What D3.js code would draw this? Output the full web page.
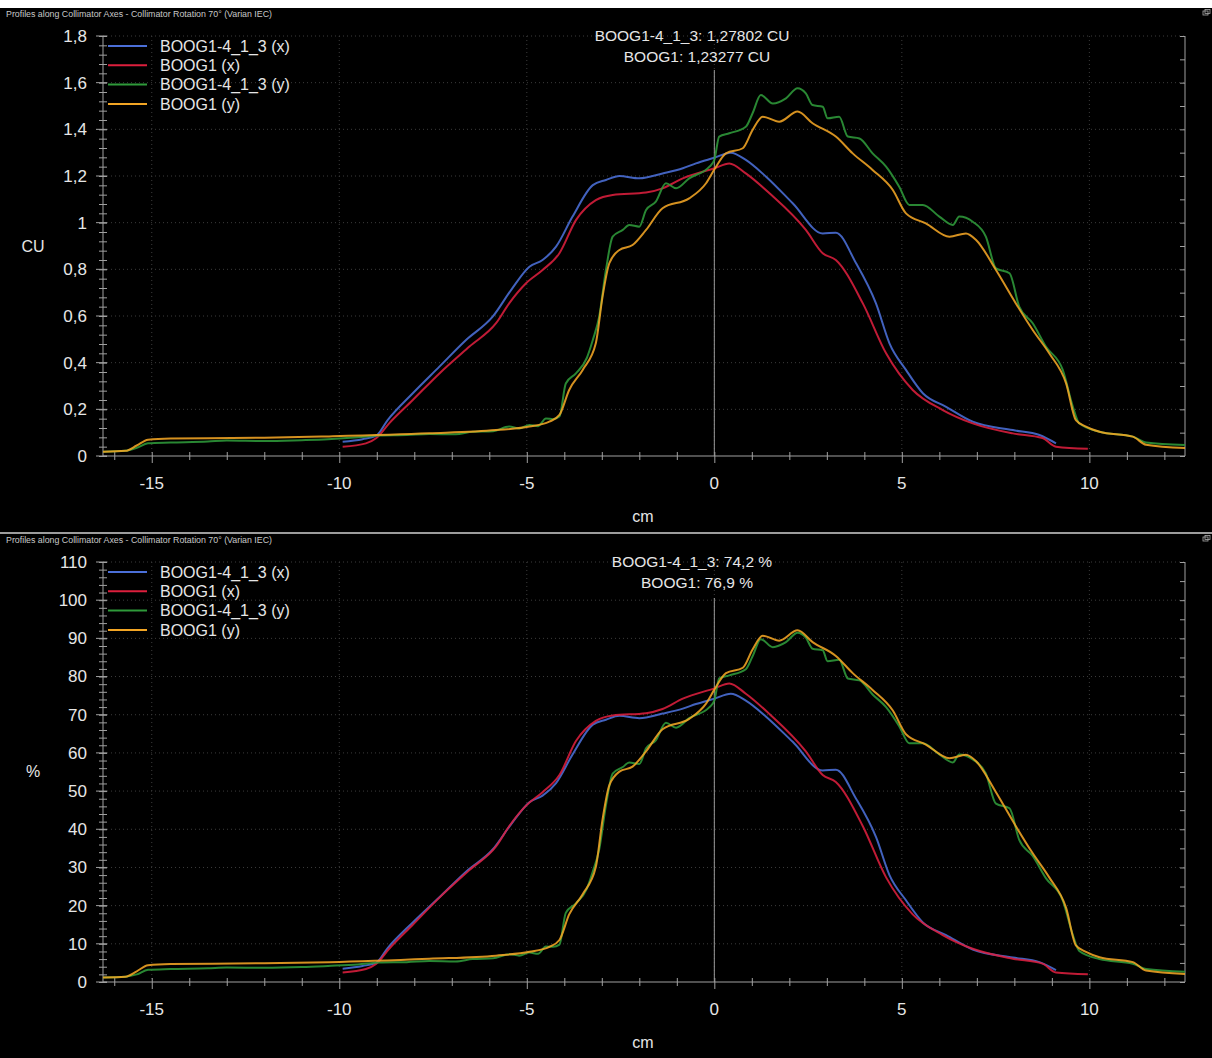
<!DOCTYPE html>
<html lang="en">

<head>
    <meta charset="UTF-8">
    <title>Profiles along Collimator Axes</title>
    <script src="https://d3js.org/d3.v7.min.js"></script>
    <style>
        body {
            margin: 0;
            background-color: white;
        }

        svg {
            display: block;
            font-family: "Liberation Sans", Arial, sans-serif;
        }
    </style>
</head>

<body>
    <svg id="chart" width="1212" height="1058"></svg>
    <script>
        // ---- Data ----
        const seriesNames = ["BOOG1-4_1_3 (x)", "BOOG1 (x)", "BOOG1-4_1_3 (y)", "BOOG1 (y)"];
        const seriesColors = ["#4b6fd8", "#dc1f3d", "#2f9a3a", "#f2a524"];

        const xTicksMajor = [-15, -10, -5, 0, 5, 10];
        const xTickLabels = ["-15", "-10", "-5", "0", "5", "10"];

        const cuTicks = [0, 0.2, 0.4, 0.6, 0.8, 1, 1.2, 1.4, 1.6, 1.8];
        const cuTickLabels = ["0", "0,2", "0,4", "0,6", "0,8", "1", "1,2", "1,4", "1,6", "1,8"];
        const pctTicks = [0, 10, 20, 30, 40, 50, 60, 70, 80, 90, 100, 110];
        const pctTickLabels = ["0", "10", "20", "30", "40", "50", "60", "70", "80", "90", "100", "110"];

        // BOOG1-4_1_3 (x)
        const blueCm = [-9.91, -9.38, -9.02, -8.71, -8.04, -7.33, -6.62, -5.91, -5.42, -4.93, -4.58, -4.22, -3.78, -3.24, -2.89, -2.53, -2.0, -1.38, -0.84, -0.49, 0.0, 0.44, 0.84, 1.38, 2.09, 2.89, 3.24, 3.78, 4.31, 4.67, 5.11, 5.56, 6.18, 6.89, 7.96, 8.67, 9.11];
        const blueCU = [0.061, 0.072, 0.086, 0.154, 0.269, 0.383, 0.497, 0.597, 0.711, 0.811, 0.840, 0.897, 1.026, 1.161, 1.183, 1.200, 1.190, 1.211, 1.233, 1.254, 1.278, 1.300, 1.269, 1.197, 1.083, 0.954, 0.957, 0.826, 0.654, 0.483, 0.369, 0.269, 0.211, 0.147, 0.111, 0.090, 0.054];
        const bluePct = [3.5, 4.2, 5.0, 8.9, 15.6, 22.2, 28.9, 34.7, 41.3, 47.1, 48.8, 52.1, 59.6, 67.4, 68.7, 69.7, 69.1, 70.3, 71.6, 72.8, 74.2, 75.5, 73.7, 69.5, 62.9, 55.4, 55.6, 48.0, 38.0, 28.0, 21.4, 15.6, 12.3, 8.5, 6.4, 5.2, 3.1];

        // BOOG1 (x)
        const redCm = [-9.91, -9.29, -9.02, -8.67, -8.04, -7.33, -6.53, -5.82, -5.47, -5.02, -4.58, -4.13, -3.69, -3.16, -2.71, -1.82, -1.38, -0.84, 0.0, 0.40, 0.84, 1.47, 2.44, 2.89, 3.24, 3.96, 4.58, 5.29, 6.09, 6.89, 7.96, 8.75, 9.11, 9.96];
        const redCU = [0.040, 0.054, 0.076, 0.140, 0.240, 0.354, 0.469, 0.569, 0.654, 0.740, 0.797, 0.869, 1.011, 1.097, 1.119, 1.129, 1.147, 1.190, 1.233, 1.254, 1.211, 1.126, 0.969, 0.869, 0.840, 0.654, 0.440, 0.283, 0.197, 0.140, 0.097, 0.077, 0.040, 0.031];
        const redPct = [2.5, 3.4, 4.7, 8.7, 15.0, 22.1, 29.3, 35.5, 40.8, 46.2, 49.7, 54.2, 63.1, 68.4, 69.8, 70.4, 71.5, 74.2, 76.9, 78.2, 75.5, 70.2, 60.4, 54.2, 52.4, 40.8, 27.4, 17.7, 12.3, 8.7, 6.1, 4.8, 2.5, 2.0];

        // BOOG1-4_1_3 (y)
        const greenCm = [-16.3, -15.7, -15.4, -15.1, -14.5, -13.5, -13.0, -12.0, -11.0, -10.3, -9.5, -8.93, -8.2, -7.6, -6.9, -6.44, -5.9, -5.47, -5.2, -4.93, -4.7, -4.49, -4.3, -4.13, -3.96, -3.69, -3.4, -3.24, -3.07, -2.89, -2.71, -2.44, -2.27, -2.0, -1.82, -1.56, -1.29, -1.02, -0.67, -0.13, 0.0, 0.13, 0.40, 0.84, 1.02, 1.24, 1.56, 1.91, 2.22, 2.44, 2.62, 2.89, 3.02, 3.33, 3.56, 3.87, 4.22, 4.58, 4.93, 5.20, 5.56, 6.0, 6.36, 6.53, 6.89, 7.24, 7.51, 7.87, 8.13, 8.49, 8.84, 9.29, 9.56, 9.73, 10.27, 11.16, 11.51, 12.55];
        const greenCU = [0.018, 0.022, 0.035, 0.055, 0.058, 0.062, 0.066, 0.064, 0.068, 0.072, 0.080, 0.088, 0.090, 0.094, 0.093, 0.104, 0.106, 0.126, 0.118, 0.133, 0.128, 0.161, 0.158, 0.169, 0.311, 0.354, 0.420, 0.497, 0.597, 0.797, 0.940, 0.969, 0.990, 0.983, 1.054, 1.090, 1.169, 1.147, 1.190, 1.240, 1.269, 1.369, 1.383, 1.411, 1.469, 1.547, 1.511, 1.533, 1.576, 1.554, 1.504, 1.497, 1.447, 1.454, 1.369, 1.361, 1.297, 1.240, 1.154, 1.076, 1.076, 1.026, 0.990, 1.026, 1.004, 0.940, 0.804, 0.783, 0.640, 0.569, 0.469, 0.369, 0.211, 0.140, 0.104, 0.083, 0.058, 0.047];
        const greenPct = [1.2, 1.4, 2.0, 3.2, 3.4, 3.6, 3.8, 3.7, 3.9, 4.2, 4.6, 5.1, 5.2, 5.5, 5.4, 6.0, 6.2, 7.3, 6.9, 7.7, 7.4, 9.3, 9.2, 9.8, 18.1, 20.6, 24.4, 28.9, 34.7, 46.3, 54.6, 56.3, 57.5, 57.1, 61.2, 63.3, 67.9, 66.6, 69.1, 72.0, 73.7, 79.5, 80.3, 81.9, 85.3, 89.8, 87.7, 89.0, 91.5, 90.2, 87.3, 86.9, 84.0, 84.4, 79.5, 79.0, 75.3, 72.0, 67.0, 62.5, 62.5, 59.6, 57.5, 59.6, 58.3, 54.6, 46.7, 45.5, 37.2, 33.0, 27.2, 21.4, 12.3, 8.1, 6.0, 4.8, 3.4, 2.7];

        // BOOG1 (y)
        const orangeCm = [-16.3, -15.7, -15.4, -15.1, -14.5, -12.0, -10.27, -7.6, -5.82, -4.93, -4.40, -4.13, -3.87, -3.51, -3.16, -2.98, -2.80, -2.53, -2.18, -1.82, -1.38, -0.67, -0.22, 0.02, 0.31, 0.76, 1.02, 1.29, 1.73, 2.22, 2.62, 3.24, 3.69, 4.22, 4.76, 5.11, 5.64, 6.27, 6.71, 6.98, 7.51, 8.04, 8.49, 8.93, 9.38, 9.64, 9.91, 10.27, 11.16, 11.51, 12.55];
        const orangeCU = [0.018, 0.022, 0.045, 0.070, 0.075, 0.078, 0.084, 0.097, 0.111, 0.126, 0.147, 0.176, 0.283, 0.369, 0.483, 0.683, 0.826, 0.883, 0.904, 0.969, 1.062, 1.104, 1.169, 1.233, 1.297, 1.319, 1.397, 1.454, 1.433, 1.476, 1.426, 1.369, 1.297, 1.226, 1.140, 1.040, 0.997, 0.940, 0.954, 0.926, 0.797, 0.654, 0.540, 0.440, 0.311, 0.154, 0.126, 0.104, 0.083, 0.048, 0.034];
        const orangePct = [1.2, 1.4, 2.8, 4.4, 4.7, 4.9, 5.2, 6.1, 6.9, 7.9, 9.2, 11.0, 17.7, 23.0, 30.1, 42.6, 51.5, 55.1, 56.4, 60.4, 66.2, 68.9, 72.9, 76.9, 80.9, 82.3, 87.1, 90.7, 89.4, 92.1, 89.0, 85.4, 80.9, 76.5, 71.1, 64.9, 62.2, 58.6, 59.5, 57.8, 49.7, 40.8, 33.7, 27.4, 19.4, 9.6, 7.9, 6.5, 5.2, 3.0, 2.1];

        const titleText = "Profiles along Collimator Axes - Collimator Rotation 70° (Varian IEC)";
        const cuReadout = ["BOOG1-4_1_3: 1,27802 CU", "BOOG1: 1,23277 CU"];
        const pctReadout = ["BOOG1-4_1_3: 74,2 %", "BOOG1: 76,9 %"];

        // Pair up x and y arrays for d3.line.
        function zip(xs, ys) {
            return xs.map((x, i) => ({ x: x, y: ys[i] }));
        }

        const svg = d3.select("#chart");

        // Draws one profile panel.
        function drawPanel(p) {
            const g = svg.append("g").attr("transform", "translate(0," + p.top + ")");

            g.append("rect")
                .attr("x", 0).attr("y", 0)
                .attr("width", 1212).attr("height", p.height)
                .attr("fill", "black");

            g.append("text")
                .attr("x", 6).attr("y", 9)
                .attr("font-size", 8.4)
                .attr("textLength", 266)
                .attr("lengthAdjust", "spacingAndGlyphs")
                .attr("fill", "#c8c8c8")
                .text(titleText);

            // small window icon top right
            g.append("rect").attr("x", 1203).attr("y", 3).attr("width", 5).attr("height", 4)
                .attr("fill", "none").attr("stroke", "#aaa").attr("stroke-width", 0.8);
            g.append("rect").attr("x", 1205).attr("y", 1.5).attr("width", 5).attr("height", 4)
                .attr("fill", "none").attr("stroke", "#aaa").attr("stroke-width", 0.8);

            const x = d3.scaleLinear().domain([-16.3, 12.55]).range([103, 1185]);
            const y = d3.scaleLinear().domain(p.yDomain).range([p.y0, p.y1]);

            // dotted grid
            g.append("g")
                .selectAll("line")
                .data(p.yTicks.filter(d => d > 0))
                .join("line")
                .attr("x1", 103).attr("x2", 1185)
                .attr("y1", d => y(d)).attr("y2", d => y(d))
                .attr("stroke", "#3c3c3c")
                .attr("stroke-dasharray", "1,3");
            g.append("g")
                .selectAll("line")
                .data(xTicksMajor)
                .join("line")
                .attr("x1", d => x(d)).attr("x2", d => x(d))
                .attr("y1", p.y1).attr("y2", p.y0)
                .attr("stroke", "#3c3c3c")
                .attr("stroke-dasharray", "1,3");

            // bottom axis
            const xAxis = g.append("g")
                .attr("transform", "translate(0," + p.y0 + ")")
                .call(d3.axisBottom(x).tickValues(d3.range(-16, 13, 1)).tickSize(4).tickFormat(""));
            xAxis.select(".domain").attr("stroke", "#a0a0a0").attr("d", "M103,0H1185");
            xAxis.selectAll(".tick line").attr("stroke", "#a0a0a0").attr("y1", -4)
                .attr("y2", d => d % 5 === 0 ? 7 : 4);
            g.append("g")
                .selectAll("text")
                .data(xTicksMajor)
                .join("text")
                .attr("x", d => x(d)).attr("y", p.y0 + 27)
                .attr("dy", "0.35em")
                .attr("text-anchor", "middle")
                .attr("font-size", 17)
                .attr("fill", "#e6e6e6")
                .text((d, i) => xTickLabels[i]);

            // left axis
            const yAxis = g.append("g")
                .attr("transform", "translate(103,0)")
                .call(d3.axisLeft(y).tickValues(d3.range(0, p.yDomain[1] + p.minor / 2, p.minor)).tickSize(4).tickFormat(""));
            yAxis.select(".domain").attr("stroke", "#a0a0a0").attr("d", "M0," + p.y0 + "V" + p.y1);
            yAxis.selectAll(".tick line").attr("stroke", "#a0a0a0").attr("x2", -4).attr("x1", 4);
            g.append("g")
                .selectAll("line")
                .data(p.yTicks)
                .join("line")
                .attr("x1", 96).attr("x2", 107)
                .attr("y1", d => y(d)).attr("y2", d => y(d))
                .attr("stroke", "#a0a0a0");
            g.append("g")
                .selectAll("text")
                .data(p.yTicks)
                .join("text")
                .attr("x", 87).attr("y", d => y(d))
                .attr("dy", "0.35em")
                .attr("text-anchor", "end")
                .attr("font-size", 17)
                .attr("fill", "#e6e6e6")
                .text((d, i) => p.yLabels[i]);

            // right axis, unlabeled
            const rAxis = g.append("g")
                .attr("transform", "translate(1185,0)")
                .call(d3.axisLeft(y).tickValues(d3.range(0, p.yDomain[1] + p.rightStep / 2, p.rightStep)).tickSize(5).tickFormat(""));
            rAxis.select(".domain").attr("stroke", "#a0a0a0").attr("d", "M0," + p.y0 + "V" + p.y1);
            rAxis.selectAll(".tick line").attr("stroke", "#a0a0a0");

            // axis titles
            g.append("text").attr("x", 33).attr("y", p.yTitleY).attr("dy", "0.35em")
                .attr("text-anchor", "middle").attr("font-size", 16).attr("fill", "#e6e6e6")
                .text(p.yTitle);
            g.append("text").attr("x", 643).attr("y", p.y0 + 60).attr("dy", "0.35em")
                .attr("text-anchor", "middle").attr("font-size", 16).attr("fill", "#e6e6e6")
                .text("cm");

            // cursor line at 0
            g.append("line")
                .attr("x1", x(0)).attr("x2", x(0))
                .attr("y1", p.cursorTop).attr("y2", p.y0)
                .attr("stroke", "#9a9a9a");

            // profiles
            const line = d3.line()
                .x(d => x(d.x))
                .y(d => y(d.y))
                .curve(d3.curveMonotoneX);
            g.append("g")
                .selectAll("path")
                .data(p.series)
                .join("path")
                .attr("d", d => line(d))
                .attr("fill", "none")
                .attr("stroke", (d, i) => seriesColors[i])
                .attr("stroke-width", 2)
                .attr("stroke-opacity", 0.88)
                .attr("stroke-linejoin", "round");

            // legend
            const leg = g.append("g")
                .selectAll("g")
                .data(seriesNames)
                .join("g")
                .attr("transform", (d, i) => "translate(0," + (p.legendTop + i * 19.3) + ")");
            leg.append("line")
                .attr("x1", 108).attr("x2", 147)
                .attr("stroke", (d, i) => seriesColors[i])
                .attr("stroke-width", 2);
            leg.append("text")
                .attr("x", 160).attr("dy", "0.35em")
                .attr("font-size", 16)
                .attr("fill", "#e6e6e6")
                .text(d => d);

            // cursor readout
            g.append("g")
                .selectAll("text")
                .data(p.readout)
                .join("text")
                .attr("x", (d, i) => i === 0 ? 692 : 697)
                .attr("y", (d, i) => p.readoutTop + i * 21)
                .attr("dy", "0.35em")
                .attr("text-anchor", "middle")
                .attr("font-size", 15.5)
                .attr("fill", "#e6e6e6")
                .text(d => d);
        }

        drawPanel({
            top: 8, height: 524,
            yDomain: [0, 1.8], y0: 448, y1: 28,
            yTicks: cuTicks, yLabels: cuTickLabels, minor: 0.04, rightStep: 0.1,
            yTitle: "CU", yTitleY: 238,
            cursorTop: 62, legendTop: 38, readoutTop: 28,
            readout: cuReadout,
            series: [zip(blueCm, blueCU), zip(redCm, redCU), zip(greenCm, greenCU), zip(orangeCm, orangeCU)]
        });

        drawPanel({
            top: 534, height: 524,
            yDomain: [0, 110], y0: 448, y1: 28,
            yTicks: pctTicks, yLabels: pctTickLabels, minor: 2, rightStep: 5,
            yTitle: "%", yTitleY: 237,
            cursorTop: 64, legendTop: 38, readoutTop: 28,
            readout: pctReadout,
            series: [zip(blueCm, bluePct), zip(redCm, redPct), zip(greenCm, greenPct), zip(orangeCm, orangePct)]
        });

        // thin separator between the two panels
        svg.append("line").attr("x1", 0).attr("x2", 1212).attr("y1", 533).attr("y2", 533)
            .attr("stroke", "#3a3a3a");
    </script>
</body>

</html>
